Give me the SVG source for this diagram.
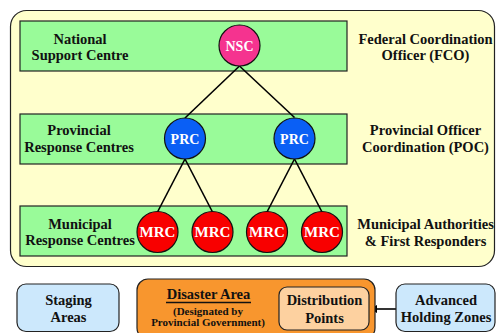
<svg xmlns="http://www.w3.org/2000/svg" width="496" height="333" viewBox="0 0 496 333">
<defs>
<style>
text{font-family:"Liberation Serif","Times New Roman",serif;font-weight:bold;text-anchor:middle;fill:#111}
.lbl{font-size:14.5px}
.node{font-size:14px;fill:#fff}
.mrc{font-size:15px;fill:#fff}
.band{fill:#99fb99;stroke:#222;stroke-width:1.2}
.circ{stroke:#111;stroke-width:1.2}
.conn{stroke:#000;stroke-width:1.6;fill:none}
.small{font-size:11px}
</style>
<marker id="arr" viewBox="0 0 10 10" refX="9" refY="5" markerWidth="5" markerHeight="5" orient="auto">
<path d="M0,0 L10,5 L0,10 Z" fill="#000"/>
</marker>
</defs>
<rect width="496" height="333" fill="#fff"/>
<g id="frame">
<rect x="10.5" y="10.5" width="484" height="256" rx="16" fill="#ffffcc" stroke="#222" stroke-width="1.2"/>
</g>
<g id="band-national">
<rect class="band" x="20" y="21" width="327" height="50"/>
<text class="lbl" x="80" y="43.5">National</text>
<text class="lbl" x="80" y="60">Support Centre</text>
</g>
<g id="band-provincial">
<rect class="band" x="20" y="114" width="327" height="50"/>
<text class="lbl" x="79" y="135">Provincial</text>
<text class="lbl" x="79" y="151.5">Response Centres</text>
</g>
<g id="band-municipal">
<rect class="band" x="20" y="206" width="327" height="50"/>
<text class="lbl" x="80" y="228.5">Municipal</text>
<text class="lbl" x="80" y="245">Response Centres</text>
</g>
<g id="right-labels">
<text class="lbl" x="425.5" y="43.5">Federal Coordination</text>
<text class="lbl" x="425.5" y="60">Officer (FCO)</text>
<text class="lbl" x="425.5" y="134.5">Provincial Officer</text>
<text class="lbl" x="425.5" y="151.5">Coordination (POC)</text>
<text class="lbl" x="425.5" y="228.5">Municipal Authorities</text>
<text class="lbl" x="425.5" y="245.5">&amp; First Responders</text>
</g>
<g id="connectors">
<line class="conn" x1="239.5" y1="66" x2="185" y2="118"/>
<line class="conn" x1="239.5" y1="66" x2="294.5" y2="117.5"/>
<line class="conn" x1="185" y1="159" x2="157.5" y2="212"/>
<line class="conn" x1="185" y1="159" x2="212.5" y2="212"/>
<line class="conn" x1="294.5" y1="159" x2="267" y2="212"/>
<line class="conn" x1="294.5" y1="159" x2="322" y2="212"/>
<line class="conn" x1="396" y1="309" x2="370" y2="309" marker-end="url(#arr)"/>
</g>
<g id="nsc">
<circle class="circ" cx="239.5" cy="45.5" r="20.5" fill="#f5338f"/>
<text class="node" x="239.5" y="50.5">NSC</text>
</g>
<g id="prc-1">
<circle class="circ" cx="185" cy="138.5" r="20.5" fill="#0a5ff5"/>
<text class="node" x="185" y="143.5">PRC</text>
</g>
<g id="prc-2">
<circle class="circ" cx="294.5" cy="138.5" r="20.5" fill="#0a5ff5"/>
<text class="node" x="294.5" y="143.5">PRC</text>
</g>
<g id="mrc-1">
<circle class="circ" cx="157.5" cy="232" r="20.5" fill="#f80000"/>
<text class="mrc" x="157.5" y="237">MRC</text>
</g>
<g id="mrc-2">
<circle class="circ" cx="212.5" cy="232" r="20.5" fill="#f80000"/>
<text class="mrc" x="212.5" y="237">MRC</text>
</g>
<g id="mrc-3">
<circle class="circ" cx="267" cy="232" r="20.5" fill="#f80000"/>
<text class="mrc" x="267" y="237">MRC</text>
</g>
<g id="mrc-4">
<circle class="circ" cx="322" cy="232" r="20.5" fill="#f80000"/>
<text class="mrc" x="322" y="237">MRC</text>
</g>
<g id="staging">
<rect x="17" y="284" width="102" height="47.5" rx="9" fill="#cce8fc" stroke="#222" stroke-width="1.2"/>
<text class="lbl" x="68.5" y="305">Staging</text>
<text class="lbl" x="68.5" y="322">Areas</text>
</g>
<g id="disaster-area">
<rect x="137" y="279" width="238" height="60" rx="11" fill="#f8962e" stroke="#222" stroke-width="1.2"/>
<text class="lbl" x="208.5" y="299">Disaster Area</text>
<line x1="166" y1="302.5" x2="251" y2="302.5" stroke="#111" stroke-width="1.3"/>
<text class="small" x="208" y="315">(Designated by</text>
<text class="small" x="208" y="326">Provincial Government)</text>
</g>
<g id="distribution">
<rect x="279" y="287" width="90" height="43" rx="8" fill="#fdd1a0" stroke="#222" stroke-width="1.2"/>
<text class="lbl" x="324.5" y="305">Distribution</text>
<text class="lbl" x="324.5" y="322.5">Points</text>
</g>
<g id="advanced-holding">
<rect x="396" y="284" width="99" height="47.5" rx="9" fill="#cce8fc" stroke="#222" stroke-width="1.2"/>
<text class="lbl" x="446" y="305">Advanced</text>
<text class="lbl" x="446" y="322">Holding Zones</text>
</g>
</svg>
